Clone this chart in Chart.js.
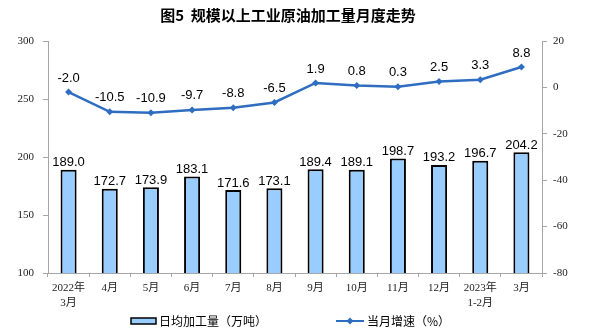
<!DOCTYPE html>
<html>
<head>
<meta charset="utf-8">
<script src="https://cdn.jsdelivr.net/npm/chart.js@4.4.0/dist/chart.umd.min.js"></script>
<style>
  body { margin: 0; background: #fff; }
  #wrap { width: 594px; height: 330px; }
</style>
</head>
<body>
<div id="wrap"><canvas id="c" width="594" height="330"></canvas></div>
<script>
// data
const months = [['2022年','3月'],'4月','5月','6月','7月','8月','9月','10月','11月','12月',['2023年','1-2月'],'3月'];
const dailyOutput = [189.0,172.7,173.9,183.1,171.6,173.1,189.4,189.1,198.7,193.2,196.7,204.2];
const growthRate = [-2.0,-10.5,-10.9,-9.7,-8.8,-6.5,1.9,0.8,0.3,2.5,3.3,8.8];
const leftTicks = [100,150,200,250,300];
const rightTicks = [-80,-60,-40,-20,0,20];

const titleText = '图5  规模以上工业原油加工量月度走势';
const barName = '日均加工量（万吨）';
const lineName = '当月增速（%）';

const blue = '#2e6dbf';
const barFill = '#99ccff';
const axisGray = '#a6a6a6';
const tickFont = {family: "'Liberation Serif', 'Noto Sans CJK SC'", size: 11, lineHeight: 1.4};

// value labels above bars and points
const valueLabels = {
  id: 'valueLabels',
  afterDatasetsDraw(chart) {
    const ctx = chart.ctx;
    ctx.save();
    ctx.font = "13px 'Liberation Sans', Arial";
    ctx.fillStyle = '#000';
    ctx.textAlign = 'center';
    ctx.textBaseline = 'middle';
    chart.getDatasetMeta(1).data.forEach((el, i) => {
      ctx.fillText(dailyOutput[i].toFixed(1), el.x, el.y - 7);
    });
    chart.getDatasetMeta(0).data.forEach((el, i) => {
      ctx.fillText(growthRate[i].toFixed(1), el.x, el.y - 14);
    });
    ctx.restore();
  }
};

// title and legend
const decor = {
  id: 'decor',
  afterDraw(chart) {
    const ctx = chart.ctx;
    ctx.save();
    ctx.fillStyle = '#000';
    ctx.textBaseline = 'middle';
    ctx.textAlign = 'center';
    ctx.font = "bold 15px 'Noto Sans CJK SC'";
    ctx.fillText(titleText, 288, 15);

    ctx.textAlign = 'left';
    ctx.font = "12px 'Noto Sans CJK SC'";
    // bar item
    ctx.fillStyle = barFill;
    ctx.fillRect(131, 318, 25, 6);
    ctx.strokeStyle = '#000';
    ctx.lineWidth = 1.5;
    ctx.strokeRect(131, 318, 25, 6);
    ctx.fillStyle = '#000';
    ctx.fillText(barName, 159, 321);
    // line item
    ctx.strokeStyle = blue;
    ctx.lineWidth = 2;
    ctx.beginPath();
    ctx.moveTo(336, 321);
    ctx.lineTo(364, 321);
    ctx.stroke();
    ctx.fillStyle = blue;
    ctx.beginPath();
    ctx.moveTo(350, 317.5);
    ctx.lineTo(353.5, 321);
    ctx.lineTo(350, 324.5);
    ctx.lineTo(346.5, 321);
    ctx.closePath();
    ctx.fill();
    ctx.fillStyle = '#000';
    ctx.fillText(lineName, 367, 321);
    ctx.restore();
  }
};

new Chart(document.getElementById('c'), {
  data: {
    labels: months,
    datasets: [
      {
        type: 'line',
        label: lineName,
        data: growthRate,
        yAxisID: 'y1',
        borderColor: blue,
        backgroundColor: blue,
        borderWidth: 2.5,
        pointStyle: 'rectRot',
        pointRadius: 3.5,
        pointBorderWidth: 0,
        tension: 0
      },
      {
        type: 'bar',
        label: barName,
        data: dailyOutput,
        yAxisID: 'y',
        backgroundColor: barFill,
        borderColor: '#000',
        borderWidth: 2,
        barPercentage: 0.39,
        categoryPercentage: 1
      }
    ]
  },
  plugins: [valueLabels, decor],
  options: {
    responsive: false,
    animation: false,
    layout: {padding: {top: 41, bottom: 22, left: 0, right: 0}},
    plugins: {legend: {display: false}, title: {display: false}, tooltip: {enabled: false}},
    scales: {
      x: {
        offset: true,
        grid: {offset: true, drawOnChartArea: false, drawTicks: true, tickLength: 4, color: axisGray},
        border: {color: axisGray},
        ticks: {color: '#222', font: tickFont, padding: 3, maxRotation: 0, autoSkip: false},
        afterFit(s) { s.height = 35; }
      },
      y: {
        position: 'left',
        min: 100, max: 300,
        afterBuildTicks(s) { s.ticks = leftTicks.map(v => ({value: v})); },
        grid: {drawOnChartArea: false, tickLength: 5, color: axisGray},
        border: {color: axisGray},
        ticks: {color: '#222', font: tickFont, padding: 9},
        afterFit(s) { s.width = 48; }
      },
      y1: {
        position: 'right',
        min: -80, max: 20,
        afterBuildTicks(s) { s.ticks = rightTicks.map(v => ({value: v})); },
        grid: {drawOnChartArea: false, tickLength: 5, color: axisGray},
        border: {color: axisGray},
        ticks: {color: '#222', font: tickFont, padding: 6},
        afterFit(s) { s.width = 52; }
      }
    }
  }
});
</script>
</body>
</html>
